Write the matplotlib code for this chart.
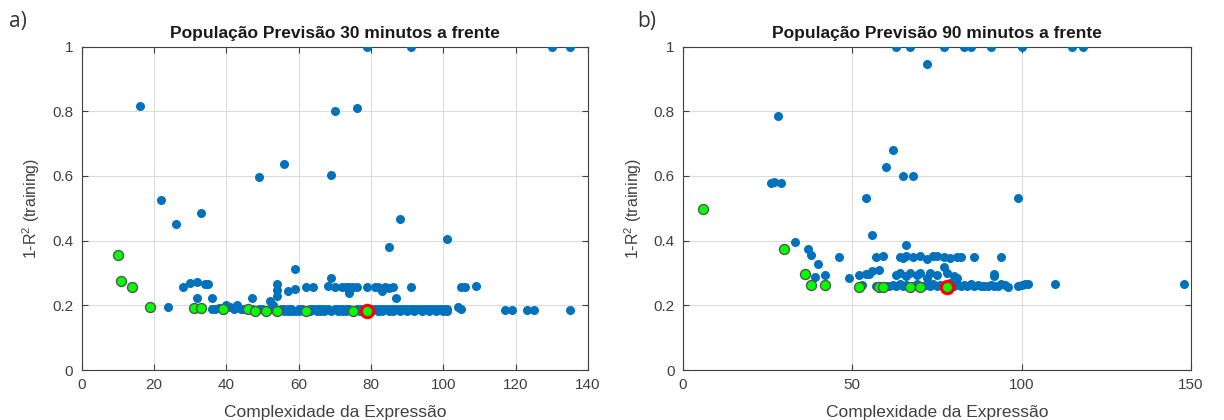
import numpy as np
import matplotlib
matplotlib.use('Agg')
from matplotlib import pyplot as plt

plt.rcParams['font.family'] = ['Liberation Sans', 'DejaVu Sans']
plt.rcParams['mathtext.fontset'] = 'custom'
plt.rcParams['mathtext.rm'] = 'Liberation Sans'
plt.rcParams['mathtext.it'] = 'Liberation Sans:italic'

BLUE = '#0072BD'

# ---- a) 30 minutos ----
a_out_x = [16, 22, 26, 33, 49, 56, 59, 69, 70, 76, 79, 91, 130, 135, 85, 88, 101]
a_out_y = [0.815, 0.525, 0.45, 0.487, 0.597, 0.638, 0.312, 0.602, 0.80, 0.81,
           1.0, 1.0, 1.0, 1.0, 0.381, 0.468, 0.404]

a_mid_x = [28, 30, 32, 34, 35, 32, 36, 47, 52, 54, 54, 54, 57, 59, 62, 64,
           68, 69, 70, 72, 73, 74, 75, 76, 74, 79, 81, 82, 83, 84, 85, 86,
           87, 91, 105, 106, 109]
a_mid_y = [0.258, 0.268, 0.272, 0.265, 0.265, 0.222, 0.222, 0.222, 0.212,
           0.265, 0.248, 0.23, 0.245, 0.252, 0.258, 0.258, 0.26, 0.285,
           0.258, 0.258, 0.258, 0.258, 0.258, 0.258, 0.238, 0.256, 0.258,
           0.258, 0.245, 0.258, 0.254, 0.258, 0.222, 0.258, 0.258, 0.258, 0.26]

a_low_x = [24, 36, 37, 38, 40, 41, 42, 43, 44, 45, 47, 49, 50, 52, 53, 55,
           56, 57, 58, 60, 61, 63, 64, 65, 66, 67, 68, 70, 71, 72, 73, 74,
           76, 77, 78, 80, 81, 82, 83, 84, 85, 86, 87, 88, 89, 90, 91, 92,
           93, 94, 95, 96, 97, 98, 99, 100, 101, 104, 105, 117, 119, 123,
           125, 135]
a_low_y = [0.195, 0.19, 0.19, 0.192, 0.2, 0.195, 0.19, 0.2, 0.19, 0.19,
           0.19, 0.19, 0.19, 0.19, 0.2, 0.19, 0.19, 0.19, 0.19, 0.19, 0.19,
           0.19, 0.19, 0.19, 0.19, 0.19, 0.19, 0.19, 0.19, 0.19, 0.19, 0.19,
           0.19, 0.19, 0.19, 0.19, 0.19, 0.19, 0.19, 0.19, 0.19, 0.19, 0.19,
           0.19, 0.19, 0.19, 0.19, 0.19, 0.19, 0.19, 0.19, 0.19, 0.19, 0.19,
           0.19, 0.19, 0.188, 0.194, 0.19, 0.186, 0.186, 0.186, 0.186, 0.186]

a_low2_x = [56, 57, 58, 59, 60, 62, 63, 65, 66, 67, 69, 71, 72, 73, 75, 77,
            78, 80, 82, 83, 85, 86, 88, 90, 92, 94, 96, 98, 100, 101]
a_low2_y = [0.182, 0.182, 0.182, 0.182, 0.182, 0.182, 0.182, 0.182, 0.182,
            0.182, 0.182, 0.182, 0.182, 0.182, 0.182, 0.182, 0.182, 0.182,
            0.182, 0.182, 0.182, 0.182, 0.182, 0.182, 0.182, 0.182, 0.182,
            0.182, 0.182, 0.182]

a_par_x = [10, 11, 14, 19, 31, 33, 39, 46, 48, 51, 54, 62, 75]
a_par_y = [0.355, 0.274, 0.258, 0.194, 0.191, 0.191, 0.19, 0.19, 0.183,
           0.183, 0.183, 0.183, 0.183]
a_best = (79, 0.183)

# ---- b) 90 minutos ----
b_out_x = [63, 67, 72, 77, 83, 85, 91, 100, 115, 118, 28, 26, 27, 29, 62, 60,
           65, 68, 54, 99, 56, 33, 66, 37, 38, 40]
b_out_y = [1, 1, 0.946, 1, 1, 1, 1, 1, 1, 1, 0.784, 0.578, 0.582, 0.578,
           0.68, 0.629, 0.599, 0.599, 0.532, 0.532, 0.418, 0.397, 0.388,
           0.375, 0.356, 0.327]

b_mid_x = [46, 57, 59, 64, 65, 66, 68, 70, 72, 74, 75, 77, 79, 81, 82, 86, 94]
b_mid_y = [0.349, 0.35, 0.352, 0.35, 0.345, 0.352, 0.35, 0.352, 0.342, 0.352,
           0.352, 0.349, 0.345, 0.349, 0.349, 0.349, 0.349]

b_row_x = [39, 42, 49, 52, 54, 55, 56, 58, 63, 64, 66, 67, 69, 70, 72, 73, 75,
           77, 78, 80, 81, 92, 92]
b_row_y = [0.289, 0.294, 0.285, 0.294, 0.297, 0.298, 0.305, 0.31, 0.295, 0.3,
           0.29, 0.3, 0.295, 0.3, 0.285, 0.3, 0.295, 0.318, 0.3, 0.292, 0.285,
           0.29, 0.296]

b_low_x = [53, 57, 60, 61, 62, 63, 64, 65, 66, 68, 69, 71, 72, 73, 74, 75, 76,
           78, 79, 80, 81, 82, 83, 84, 85, 86, 87, 88, 89, 90, 91, 92, 93, 94,
           95, 96, 99, 100, 101, 102, 110, 148]
b_low_y = [0.262, 0.26, 0.26, 0.26, 0.262, 0.26, 0.265, 0.26, 0.262, 0.26,
           0.265, 0.26, 0.262, 0.26, 0.265, 0.26, 0.262, 0.26, 0.27, 0.26,
           0.265, 0.26, 0.262, 0.26, 0.265, 0.26, 0.262, 0.26, 0.26, 0.26,
           0.262, 0.26, 0.26, 0.265, 0.262, 0.258, 0.26, 0.262, 0.265, 0.266,
           0.266, 0.266]

b_par_x = [6, 30, 36, 38, 42, 52, 58, 59, 67, 70]
b_par_y = [0.498, 0.373, 0.297, 0.263, 0.263, 0.258, 0.256, 0.256, 0.256, 0.256]
b_best = (78, 0.256)


def draw_panel(ax, blues, par_x, par_y, best, xmax, xticks, title):
    for bx, by in blues:
        ax.plot(bx, by, 'o', color=BLUE, markersize=6.5, markeredgewidth=0,
                linestyle='none', zorder=3)
    ax.plot(par_x, par_y, 'o', markerfacecolor='#00ff00', markeredgecolor='#555555',
            markersize=7.2, markeredgewidth=1, linestyle='none', zorder=4)
    ax.plot(best[0], best[1], 'o', markerfacecolor='#00ff00', markeredgecolor='#ff0000',
            markersize=8.8, markeredgewidth=2.3, linestyle='none', zorder=5)
    ax.set_xlim(0, xmax)
    ax.set_ylim(0, 1)
    ax.set_xticks(xticks)
    ax.set_yticks([0, 0.2, 0.4, 0.6, 0.8, 1])
    ax.set_yticklabels(['0', '0.2', '0.4', '0.6', '0.8', '1'])
    ax.grid(True, color='#dcdcdc', linewidth=0.8)
    ax.set_axisbelow(True)
    for s in ax.spines.values():
        s.set_color('#404040')
        s.set_linewidth(0.8)
    ax.tick_params(direction='in', length=4, width=0.8, color='#404040',
                   labelcolor='#404040', labelsize=11, top=True, right=True, pad=6)
    ax.set_title(title, fontsize=12.5, fontweight='bold', pad=6, color='#1a1a1a')
    ax.set_xlabel('Complexidade da Expressão', fontsize=12.5, color='#404040', labelpad=9)
    ax.set_ylabel('1-R$^{2}$ (training)', fontsize=11.5, color='#404040', labelpad=7)


fig = plt.figure(figsize=(12.24, 4.2), dpi=100)
ax1 = fig.add_axes([0.0667, 0.119, 0.4137, 0.770])
ax2 = fig.add_axes([0.5578, 0.119, 0.4152, 0.770])

draw_panel(ax1, [(a_low_x, a_low_y), (a_low2_x, a_low2_y), (a_mid_x, a_mid_y), (a_out_x, a_out_y)],
           a_par_x, a_par_y, a_best, 140, [0, 20, 40, 60, 80, 100, 120, 140],
           'População Previsão 30 minutos a frente')
draw_panel(ax2, [(b_low_x, b_low_y), (b_row_x, b_row_y), (b_mid_x, b_mid_y), (b_out_x, b_out_y)],
           b_par_x, b_par_y, b_best, 150, [0, 50, 100, 150],
           'População Previsão 90 minutos a frente')

fig.text(9 / 1224, 1 - 21 / 420, 'a)', fontsize=15, family=['Open Sans', 'DejaVu Sans'],
         color='#333333', va='center', ha='left')
fig.text(637 / 1224, 1 - 21 / 420, 'b)', fontsize=15, family=['Open Sans', 'DejaVu Sans'],
         color='#333333', va='center', ha='left')

fig.savefig('out.png', dpi=100)
